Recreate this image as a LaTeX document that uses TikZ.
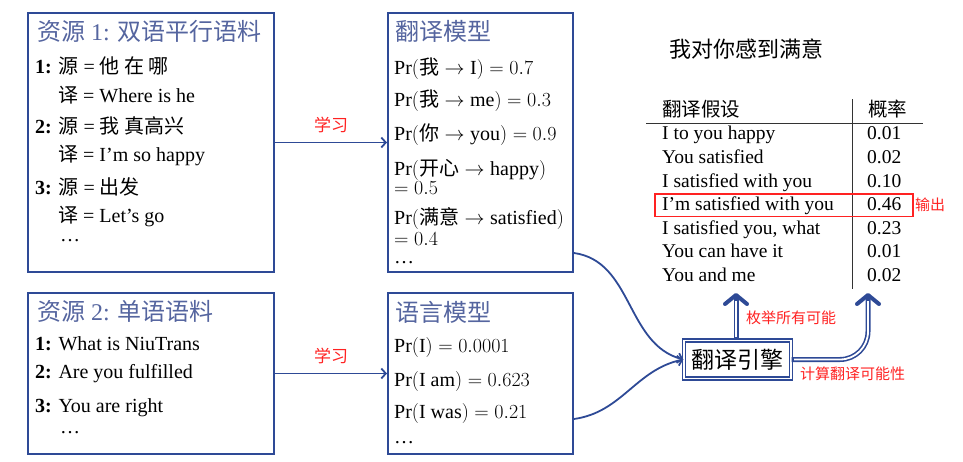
\RequirePackage{fix-cm}
\documentclass[tikz,border=0pt]{standalone}
\usepackage{fontspec}
\setmainfont{Liberation Serif}
\newfontfamily\cjk{Noto Sans CJK SC}
\usetikzlibrary{arrows.meta,positioning,calc}
\definecolor{mtblue}{HTML}{2E4A96}
\definecolor{mtgray}{HTML}{55659F}
\definecolor{mtred}{HTML}{FF2222}
\newcommand{\zh}[1]{{\cjk #1}}
\newcommand{\zm}[1]{\mbox{\cjk #1}}
\newcommand{\fsz}[1]{\fontsize{#1}{#1}\selectfont}

\begin{document}
\begin{tikzpicture}[x=1pt, y=1pt,
  box/.style={rectangle, draw=mtblue, line width=2pt, inner sep=0pt, anchor=north west},
  boxtitle/.style={anchor=base west, inner sep=0pt, text=mtgray, font=\fsz{24}},
  entry/.style={anchor=base west, inner sep=0pt, font=\fsz{20}},
  hyp/.style={anchor=base west, inner sep=0pt, font=\fsz{19.5}},
  note/.style={inner sep=0pt, text=mtred, font=\fsz{15}},
  flow/.style={draw=mtblue, line width=1.8pt, -{Straight Barb[length=4.5pt,width=10pt]}},
  fatbase/.style={draw=mtblue, line width=5pt,
    -{Straight Barb[length=9pt,width=22pt,line width=4pt,round]}},
  fatcore/.style={draw=white, line width=1.8pt, shorten >=8pt, shorten <=2.5pt},
]
  \useasboundingbox (0,0) rectangle (963,-462);

  % corpora and models
  \node[box, minimum width=246pt, minimum height=259pt] (bi) at (27,-12) {};
  \node[box, minimum width=185pt, minimum height=259pt] (tm) at (387,-12) {};
  \node[box, minimum width=246pt, minimum height=161pt] (mono) at (27,-292) {};
  \node[box, minimum width=185pt, minimum height=161pt] (lm) at (387,-292) {};

  \node[boxtitle] (bititle) at (37,-41) {\zh{资源} 1: \zh{双语平行语料}};
  \node[boxtitle] (tmtitle) at (395,-41) {\zh{翻译模型}};
  \node[boxtitle] (monotitle) at (37,-320) {\zh{资源} 2: \zh{单语语料}};
  \node[boxtitle] (lmtitle) at (395,-321) {\zh{语言模型}};

  \foreach \x/\y/\txt [count=\i] in {
    35/74/{\textbf{1:} \zh{源} = \zh{他 在 哪}},
    58/103/{\zh{译} = Where is he},
    35/134/{\textbf{2:} \zh{源} = \zh{我 真高兴}},
    58/162/{\zh{译} = I’m so happy},
    35/195/{\textbf{3:} \zh{源} = \zh{出发}},
    58/223/{\zh{译} = Let’s go},
    60/242/{\ldots}}
    \node[entry] (bi\i) at (\x,-\y) {\txt};

  \foreach \y/\txt [count=\i] in {
    75/{$\mathrm{Pr}(\zm{我} \rightarrow \mathrm{I}) = 0.7$},
    107/{$\mathrm{Pr}(\zm{我} \rightarrow \mathrm{me}) = 0.3$},
    141/{$\mathrm{Pr}(\zm{你} \rightarrow \mathrm{you}) = 0.9$},
    176/{$\mathrm{Pr}(\zm{开心} \rightarrow \mathrm{happy})$},
    195/{$= 0.5$},
    225/{$\mathrm{Pr}(\zm{满意} \rightarrow \mathrm{satisfied})$},
    246/{$= 0.4$},
    263/{\ldots}}
    \node[entry] (tm\i) at (394,-\y) {\txt};

  \foreach \x/\y/\txt [count=\i] in {
    35/350/{\textbf{1:} What is NiuTrans},
    35/378/{\textbf{2:} Are you fulfilled},
    35/412/{\textbf{3:} You are right},
    60/433/{\ldots}}
    \node[entry] (mono\i) at (\x,-\y) {\txt};

  \foreach \y/\txt [count=\i] in {
    352/{$\mathrm{Pr}(\mathrm{I}) = 0.0001$},
    386/{$\mathrm{Pr}(\mathrm{I\ am}) = 0.623$},
    418/{$\mathrm{Pr}(\mathrm{I\ was}) = 0.21$},
    443/{\ldots}}
    \node[entry] (lm\i) at (394,-\y) {\txt};

  % learning
  \draw[flow] (bi) -- node[note, above=9pt, font=\fsz{17}] (learn1) {\zh{学习}} (tm);
  \draw[flow] (mono) -- node[note, above=9pt, font=\fsz{17}] (learn2) {\zh{学习}} (lm);

  % engine
  \node[draw=mtblue, line width=1.3pt, double=white, double distance=1.8pt,
    minimum width=107pt, minimum height=38pt, inner sep=0pt, font=\fsz{23}]
    (eng) at (737.5,-359.5) {\zh{翻译引擎}};
  \draw[flow] ([yshift=20pt]tm.south east) to[out=-8, in=165] (eng.west);
  \draw[flow] ([yshift=36pt]lm.south east) to[out=8, in=192] (eng.west);

  \coordinate (enumtip) at (736,-293);
  \coordinate (scoretip) at (868,-293);
  \draw[fatbase] (eng.north -| enumtip) -- (enumtip);
  \draw[fatcore] (eng.north -| enumtip) -- (enumtip);
  \draw[fatbase, rounded corners=28pt] (eng.east) -| (scoretip);
  \draw[fatcore, rounded corners=28pt] (eng.east) -| (scoretip);
  \node[note, anchor=base west] (enumlabel) at (746,-323) {\zh{枚举所有可能}};
  \node[note, anchor=base west] (scorelabel) at (800,-379) {\zh{计算翻译可能性}};

  % hypotheses
  \node[anchor=base west, inner sep=0pt, font=\fsz{22}] (sent) at (669,-58) {\zh{我对你感到满意}};
  \node[hyp] (hyphead) at (662,-117) {\zh{翻译假设}};
  \node[hyp] (probhead) at (868,-117) {\zh{概率}};
  \draw[line width=0.9pt, black!80] (646,-123.3) -- (922.7,-123.3);
  \draw[line width=0.9pt, black!80] (852.3,-99.3) -- (852.3,-289.3);
  \foreach \hyp/\p [count=\i] in {I to you happy/0.01, You satisfied/0.02,
    I satisfied with you/0.10, I’m satisfied with you/0.46,
    {I satisfied you, what}/0.23, You can have it/0.01, You and me/0.02}
    {
    \node[hyp] (hyp\i) at (662,{-140-23.6*(\i-1)}) {\hyp};
    \node[hyp] (prob\i) at (867,{-140-23.6*(\i-1)}) {\p};
    }
  \draw[mtred, line width=1.5pt] (655,-194) rectangle (913,-216.7);
  \node[note, anchor=base west] (out) at (915,-211) {\zh{输出}};
\end{tikzpicture}
\end{document}
